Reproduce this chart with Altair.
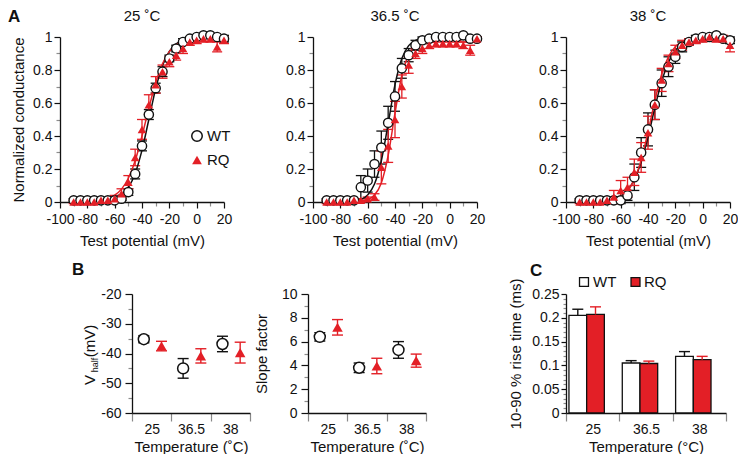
import altair as alt
import pandas as pd

FONT = "Liberation Sans"
RED = "#e31f26"
BLACK = "#111111"
GREY = "#8c8c8c"
CAP = "M-1,0L1,0"

# ---------------- Panel A data (normalized conductance vs test potential) ----------------
VOLTS = [-90, -85, -80, -75, -70, -65, -60, -55, -50, -45, -40, -35, -30, -25,
         -20, -15, -10, -5, 0, 5, 10, 15, 20]

WT25 = [0.01, 0.01, 0.01, 0.01, 0.01, 0.01, 0.01, 0.02, 0.06, 0.17, 0.34, 0.53,
        0.69, 0.79, 0.87, 0.93, 0.97, 0.99, 1.0, 1.01, 1.01, 1.0, 0.99]
WT25_ERR = [0.01, 0.01, 0.01, 0.01, 0.01, 0.01, 0.01, 0.01, 0.02, 0.03, 0.03, 0.03,
            0.03, 0.03, 0.02, 0.02, 0.02, 0.01, 0.01, 0.01, 0.01, 0.01, 0.02]
WT25_FIT = [0.0, 0.0, 0.001, 0.002, 0.004, 0.009, 0.02, 0.042, 0.088, 0.173, 0.314, 0.5,
            0.686, 0.827, 0.912, 0.958, 0.98, 0.991, 0.996, 0.998, 0.999, 1.0, 1.0]
RQ25 = [0.0, 0.0, 0.0, 0.0, 0.01, 0.01, 0.02, 0.05, 0.12, 0.27, 0.44, 0.59,
        0.71, 0.79, 0.85, 0.89, 0.93, 0.97, 0.98, 0.99, 0.99, 0.94, 0.98]
RQ25_ERR = [0.01, 0.01, 0.01, 0.01, 0.01, 0.01, 0.02, 0.03, 0.04, 0.05, 0.06, 0.06,
            0.05, 0.04, 0.03, 0.03, 0.03, 0.02, 0.02, 0.02, 0.02, 0.03, 0.02]
RQ25_FIT = [0.001, 0.001, 0.003, 0.005, 0.011, 0.021, 0.041, 0.078, 0.144, 0.25, 0.4, 0.568,
            0.723, 0.838, 0.911, 0.953, 0.976, 0.988, 0.994, 0.997, 0.998, 0.999, 1.0]

WT36 = [0.01, 0.01, 0.01, 0.01, 0.01, 0.09, 0.13, 0.23, 0.33, 0.48, 0.64, 0.81,
        0.89, 0.95, 0.98, 0.99, 1.0, 1.0, 1.0, 1.0, 1.01, 0.99, 0.99]
WT36_ERR = [0.01, 0.01, 0.01, 0.01, 0.01, 0.07, 0.07, 0.08, 0.1, 0.1, 0.09, 0.06,
            0.04, 0.03, 0.02, 0.01, 0.01, 0.01, 0.01, 0.01, 0.01, 0.01, 0.01]
WT36_FIT = [0.0, 0.0, 0.001, 0.002, 0.006, 0.016, 0.043, 0.109, 0.25, 0.475, 0.711, 0.87,
            0.948, 0.98, 0.993, 0.997, 0.999, 1.0, 1.0, 1.0, 1.0, 1.0, 1.0]
RQ36 = [0.0, 0.0, 0.0, 0.0, 0.01, 0.01, 0.02, 0.03, 0.21, 0.34, 0.5, 0.7,
        0.83, 0.9, 0.93, 0.95, 0.96, 0.96, 0.96, 0.96, 0.95, 0.92, 0.99]
RQ36_ERR = [0.01, 0.01, 0.01, 0.01, 0.01, 0.01, 0.01, 0.02, 0.1, 0.1, 0.11, 0.07,
            0.05, 0.03, 0.03, 0.02, 0.02, 0.02, 0.02, 0.02, 0.02, 0.03, 0.01]
RQ36_FIT = [0.0, 0.0, 0.0, 0.0, 0.001, 0.005, 0.014, 0.042, 0.115, 0.282, 0.538, 0.767,
            0.892, 0.943, 0.961, 0.967, 0.969, 0.97, 0.97, 0.97, 0.97, 0.97, 0.97]

WT38 = [0.01, 0.01, 0.01, 0.01, 0.01, 0.01, 0.01, 0.04, 0.15, 0.3, 0.44, 0.59,
        0.72, 0.82, 0.88, 0.94, 0.97, 0.99, 1.0, 1.0, 1.01, 0.99, 0.98]
WT38_ERR = [0.01, 0.01, 0.01, 0.01, 0.01, 0.01, 0.02, 0.03, 0.08, 0.09, 0.1, 0.09,
            0.08, 0.06, 0.04, 0.03, 0.02, 0.02, 0.01, 0.01, 0.01, 0.01, 0.02]
WT38_FIT = [0.0, 0.001, 0.002, 0.004, 0.009, 0.018, 0.036, 0.071, 0.135, 0.242, 0.394, 0.571,
            0.731, 0.847, 0.919, 0.959, 0.979, 0.99, 0.995, 0.998, 0.999, 1.0, 1.0]
RQ38 = [0.0, 0.0, 0.0, 0.0, 0.01, 0.03, 0.07, 0.09, 0.18, 0.27, 0.42, 0.59,
        0.74, 0.84, 0.91, 0.95, 0.97, 0.98, 0.99, 1.0, 0.99, 0.99, 0.95]
RQ38_ERR = [0.01, 0.01, 0.01, 0.01, 0.02, 0.04, 0.06, 0.06, 0.08, 0.09, 0.1, 0.09,
            0.07, 0.05, 0.04, 0.03, 0.02, 0.02, 0.02, 0.02, 0.02, 0.02, 0.04]
RQ38_FIT = [0.0, 0.0, 0.002, 0.003, 0.007, 0.015, 0.033, 0.068, 0.137, 0.254, 0.424, 0.613,
            0.774, 0.881, 0.941, 0.972, 0.986, 0.993, 0.997, 0.998, 0.999, 1.0, 1.0]

# ---------------- Panels B and C data ----------------
TEMPS = ["25", "36.5", "38"]
GROUPS = ["WT", "RQ"]
VH_WT = [-35.2, -45.0, -36.8]
VH_WT_ERR = [1.2, 3.3, 2.6]
VH_RQ = [-37.5, -40.8, -39.7]
VH_RQ_ERR = [1.6, 2.4, 3.5]
K_WT = [6.4, 3.8, 5.3]
K_WT_ERR = [0.35, 0.4, 0.7]
K_RQ = [7.2, 3.95, 4.4]
K_RQ_ERR = [0.65, 0.65, 0.55]
RISE_WT = [0.205, 0.105, 0.119]
RISE_WT_ERR = [0.013, 0.005, 0.010]
RISE_RQ = [0.207, 0.104, 0.112]
RISE_RQ_ERR = [0.016, 0.005, 0.007]

# ---------------- tick lists ----------------
A_XTICKS = [-100, -90, -80, -70, -60, -50, -40, -30, -20, -10, 0, 10, 20]
A_YTICKS = [0, 0.1, 0.2, 0.3, 0.4, 0.5, 0.6, 0.7, 0.8, 0.9, 1]
VH_TICKS = [-60, -55, -50, -45, -40, -35, -30, -25, -20]
K_TICKS = [0, 1, 2, 3, 4, 5, 6, 7, 8, 9, 10]
RISE_TICKS = [0, 0.01, 0.02, 0.03, 0.04, 0.05, 0.06, 0.07, 0.08, 0.09, 0.1, 0.11, 0.12,
              0.13, 0.14, 0.15, 0.16, 0.17, 0.18, 0.19, 0.2, 0.21, 0.22, 0.23, 0.24, 0.25]

ONE = pd.DataFrame({"k": [0]})


def minor(test, major=6, small=3):
    return dict(
        tickSize={"condition": {"test": test, "value": small}, "value": major},
        tickColor={"condition": {"test": test, "value": GREY}, "value": BLACK},
    )


def label(text, x, y, size=15, weight="normal", align="left", angle=0, color=BLACK,
          opacity=1, baseline="middle"):
    return ONE.pipe(alt.Chart).mark_text(
        text=text, align=align, baseline=baseline, fontSize=size, fontWeight=weight,
        angle=angle, color=color, font=FONT, opacity=opacity
    ).encode(x=alt.value(x), y=alt.value(y))


def letter(text, x, y, opacity=1, baseline="alphabetic"):
    return ONE.pipe(alt.Chart).mark_text(
        text=text, align="left", baseline=baseline, fontSize=17, fontWeight="bold",
        color=BLACK, font=FONT, opacity=opacity
    ).encode(x=alt.value(x), y=alt.value(y))


def panel_a(title, wt, wte, wtf, rq, rqe, rqf, first):
    df = pd.DataFrame(dict(V=VOLTS, wt=wt, wte=wte, wtf=wtf, rq=rq, rqe=rqe, rqf=rqf))
    base = alt.Chart(df).transform_calculate(
        wlo="datum.wt - datum.wte", whi="datum.wt + datum.wte",
        rlo="datum.rq - datum.rqe", rhi="datum.rq + datum.rqe")
    xaxis = alt.Axis(values=A_XTICKS,
                     labelExpr="datum.value % 20 == 0 ? datum.value + '' : ''",
                     labelFlush=False, labelOverlap=False, labelPadding=4, titlePadding=7,
                     **minor("datum.value % 20 != 0", 6, 4))
    yaxis = alt.Axis(values=A_YTICKS,
                     labelExpr="round(datum.value * 10) % 2 == 0 ? datum.value + '' : ''",
                     labelFlush=False, labelOverlap=False, labelPadding=2, titlePadding=6,
                     **minor("round(datum.value * 10) % 2 != 0", 6, 4))
    X = alt.X("V:Q", scale=alt.Scale(domain=[-100, 20], nice=False, zero=False),
              axis=xaxis, title="Test potential (mV)")
    ytitle = "Normalized conductance" if first else None

    def Y(f):
        return alt.Y(f"{f}:Q", scale=alt.Scale(domain=[0, 1], nice=False, zero=False),
                     axis=yaxis, title=ytitle)

    layers = []
    for lo, hi, col in [("wlo", "whi", BLACK), ("rlo", "rhi", RED)]:
        layers.append(base.mark_rule(color=col, strokeWidth=1.3).encode(x=X, y=Y(lo), y2=f"{hi}:Q"))
        for f in (lo, hi):
            layers.append(base.mark_point(shape=CAP, size=100, filled=False, color=col,
                                          strokeWidth=1.3, opacity=1).encode(x=X, y=Y(f)))
    layers.append(base.mark_line(color=BLACK, strokeWidth=1.5, interpolate="monotone").encode(x=X, y=Y("wtf")))
    layers.append(base.mark_line(color=RED, strokeWidth=1.5, interpolate="monotone").encode(x=X, y=Y("rqf")))
    layers.append(base.mark_point(shape="circle", size=85, filled=True, fill="white", stroke=BLACK,
                                  strokeWidth=1.4, opacity=1).encode(x=X, y=Y("wt")))
    layers.append(base.mark_point(shape="triangle-up", size=75, filled=True, color=RED,
                                  opacity=1).encode(x=X, y=Y("rq")))
    # panel title as text (keeps it independent of the panel letter)
    layers.append(label(title, 82, -28, align="center", baseline="top"))
    if first:
        layers += [
            ONE.pipe(alt.Chart).mark_point(shape="circle", size=110, filled=True, fill="white",
                                           stroke=BLACK, strokeWidth=1.5, opacity=1
                                           ).encode(x=alt.value(137), y=alt.value(99)),
            label("WT", 147, 99),
            ONE.pipe(alt.Chart).mark_point(shape="triangle-up", size=95, filled=True, color=RED,
                                           opacity=1).encode(x=alt.value(137), y=alt.value(123)),
            label("RQ", 147, 123),
            letter("A", -52, -28, baseline="top"),
        ]
    return alt.layer(*layers).properties(width=164, height=165)


def x_temp(title):
    return alt.X("temp:N", sort=TEMPS, scale=alt.Scale(type="band", paddingInner=0, paddingOuter=0),
                 axis=alt.Axis(tickBand="extent", labelAngle=0, labelPadding=1, titlePadding=3,
                               tickSize=8, labelFlush=False),
                 title=title)


def panel_b(wt, wte, rq, rqe, ydom, yticks, lab_test, ytitle, extra):
    df = pd.DataFrame(dict(temp=TEMPS * 2, grp=["WT"] * 3 + ["RQ"] * 3,
                           v=wt + rq, e=wte + rqe))
    base = alt.Chart(df).transform_calculate(lo="datum.v - datum.e", hi="datum.v + datum.e")
    X = x_temp("Temperature (˚C)")
    XO = alt.XOffset("grp:N", sort=GROUPS,
                     scale=alt.Scale(type="band", domain=GROUPS, paddingInner=0,
                                     paddingOuter=0.111, align=0.75))
    yaxis = alt.Axis(values=yticks,
                     labelExpr=f"({lab_test}) ? datum.value + '' : ''",
                     labelFlush=False, labelOverlap=False, labelPadding=4, titlePadding=12,
                     **minor(f"!({lab_test})", 7, 4))

    def Y(f):
        return alt.Y(f"{f}:Q", scale=alt.Scale(domain=ydom, nice=False, zero=False),
                     axis=yaxis, title=ytitle)

    layers = []
    for g, col in [("WT", BLACK), ("RQ", RED)]:
        b = base.transform_filter(f"datum.grp == '{g}'")
        layers.append(b.mark_rule(color=col, strokeWidth=1.4).encode(x=X, xOffset=XO, y=Y("lo"), y2="hi:Q"))
        for f in ("lo", "hi"):
            layers.append(b.mark_point(shape=CAP, size=121, filled=False, color=col,
                                       strokeWidth=1.4, opacity=1).encode(x=X, xOffset=XO, y=Y(f)))
    layers.append(base.transform_filter("datum.grp == 'WT'").mark_point(
        shape="circle", size=120, filled=True, fill="white", stroke=BLACK, strokeWidth=1.5,
        opacity=1).encode(x=X, xOffset=XO, y=Y("v")))
    layers.append(base.transform_filter("datum.grp == 'RQ'").mark_point(
        shape="triangle-up", size=110, filled=True, color=RED, opacity=1
    ).encode(x=X, xOffset=XO, y=Y("v")))
    layers += extra
    return alt.layer(*layers).properties(width=118, height=119)


def panel_c():
    df = pd.DataFrame(dict(temp=TEMPS * 2, grp=["WT"] * 3 + ["RQ"] * 3,
                           v=RISE_WT + RISE_RQ, e=RISE_WT_ERR + RISE_RQ_ERR))
    base = alt.Chart(df).transform_calculate(hi="datum.v + datum.e")
    X = x_temp("Temperature (°C)")
    XO = alt.XOffset("grp:N", sort=GROUPS,
                     scale=alt.Scale(type="band", domain=GROUPS, paddingInner=0,
                                     paddingOuter=1, align=0.27))
    test = "round(datum.value * 100) % 5 == 0"
    yaxis = alt.Axis(values=RISE_TICKS,
                     labelExpr=f"({test}) ? datum.value + '' : ''",
                     labelFlush=False, labelOverlap=False, labelPadding=2, titlePadding=8,
                     **minor(f"!({test})", 5, 3))

    def Y(f):
        return alt.Y(f"{f}:Q", scale=alt.Scale(domain=[0, 0.25], nice=False),
                     axis=yaxis, title="10-90 % rise time (ms)")

    layers = [base.mark_bar(stroke=BLACK, strokeWidth=1.3).encode(
        x=X, xOffset=XO, y=Y("v"),
        fill=alt.Fill("grp:N", scale=alt.Scale(domain=GROUPS, range=["white", RED]), legend=None))]
    for g, col in [("WT", BLACK), ("RQ", RED)]:
        b = base.transform_filter(f"datum.grp == '{g}'")
        layers.append(b.mark_rule(color=col, strokeWidth=1.4).encode(x=X, xOffset=XO, y=Y("v"), y2="hi:Q"))
        layers.append(b.mark_point(shape=CAP, size=121, filled=False, color=col,
                                   strokeWidth=1.4, opacity=1).encode(x=X, xOffset=XO, y=Y("hi")))
    layers += [
        ONE.pipe(alt.Chart).mark_point(shape="square", size=80, filled=True, fill="white",
                                       stroke=BLACK, strokeWidth=1.3, opacity=1
                                       ).encode(x=alt.value(18), y=alt.value(-12)),
        label("WT", 27, -12),
        ONE.pipe(alt.Chart).mark_point(shape="square", size=80, filled=True, fill=RED,
                                       stroke=BLACK, strokeWidth=1.3, opacity=1
                                       ).encode(x=alt.value(69.5), y=alt.value(-12)),
        label("RQ", 78, -12),
        letter("C", -36, -18),
    ]
    return alt.layer(*layers).properties(width=160, height=119)


def spacer(w, extra=()):
    body = ONE.pipe(alt.Chart).mark_point(opacity=0, size=1).encode(x=alt.value(0), y=alt.value(0))
    return alt.layer(body, *extra).properties(width=w, height=119)


a1 = panel_a("25 ˚C", WT25, WT25_ERR, WT25_FIT, RQ25, RQ25_ERR, RQ25_FIT, True)
a2 = panel_a("36.5 ˚C", WT36, WT36_ERR, WT36_FIT, RQ36, RQ36_ERR, RQ36_FIT, False)
a3 = panel_a("38 ˚C", WT38, WT38_ERR, WT38_FIT, RQ38, RQ38_ERR, RQ38_FIT, False)

vhalf_title = [
    label("V", -42, 86, size=15, align="center", angle=270),
    label("half", -37, 71, size=9, align="center", angle=270),
    label("(mV)", -42, 47, size=15, align="center", angle=270),
    letter("B", -60, -19),
]
b1 = panel_b(VH_WT, VH_WT_ERR, VH_RQ, VH_RQ_ERR, [-60, -20], VH_TICKS,
             "datum.value % 10 == 0", None, vhalf_title)
b2 = panel_b(K_WT, K_WT_ERR, K_RQ, K_RQ_ERR, [0, 10], K_TICKS,
             "datum.value % 2 == 0", "Slope factor", [])
c = panel_c()

top = alt.hconcat(a1, a2, a3, spacing=89, bounds="flush")
bottom = alt.hconcat(spacer(14, [letter("A", -52, -28, opacity=0, baseline="top")]),
                     b1, b2, spacer(24), c, spacing=58, bounds="flush")

chart = alt.vconcat(top, bottom, spacing=13).properties(
    padding={"left": 0, "top": 0, "right": 0, "bottom": 0}
).configure(font=FONT).configure_view(stroke=None).configure_axis(
    labelFont=FONT, titleFont=FONT, labelFontSize=14, titleFontSize=15,
    titleFontWeight="normal", labelColor=BLACK, titleColor=BLACK,
    domainColor=BLACK, domainWidth=1.3, tickWidth=1.2, grid=False
)

chart.save("out.html", embed_options={"renderer": "svg", "actions": False})
